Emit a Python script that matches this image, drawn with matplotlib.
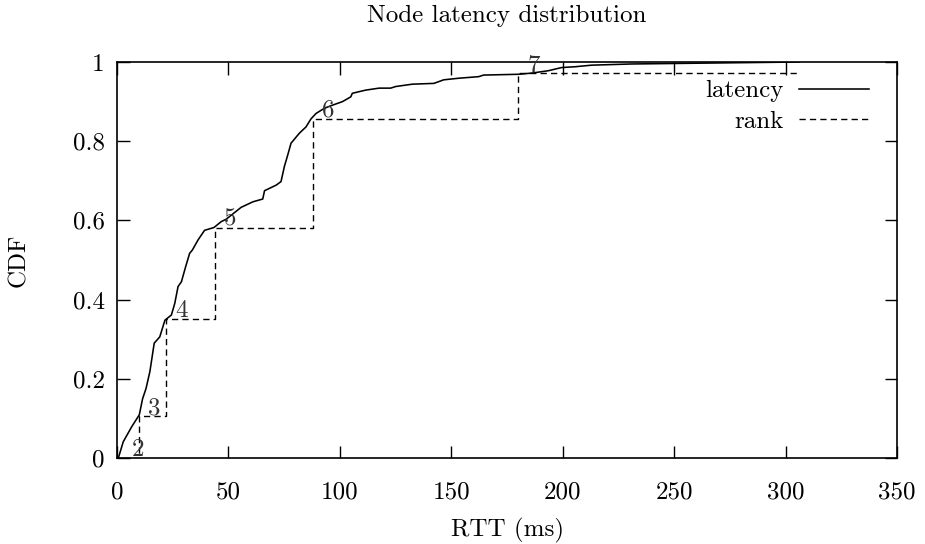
import matplotlib
matplotlib.use('Agg')
import matplotlib.pyplot as plt

# curva cdf della latenza
lat_rtt = [0.6, 2.8, 6.6, 10, 11.5, 13, 14.75, 16.7, 19.2, 21.5, 24.4, 25.9, 27.4,
           28.9, 30.8, 32.6, 33.8, 36.4, 39.3, 43.5, 46.8, 49, 55.7, 61, 65.4, 66.2,
           71.4, 73.6, 75.1, 76.6, 78.1, 81.8, 84.8, 87, 89.3, 93, 96.7, 101.2, 104.9,
           105.6, 111.6, 117.6, 122.8, 125, 132.5, 142.2, 146.6, 153.3, 162.3, 164.5,
           180.2, 186.1, 193.6, 199.5, 205.5, 213, 230.8, 260.6, 306]
lat_cdf = [0.0, 0.041, 0.079, 0.109, 0.15, 0.175, 0.218, 0.29, 0.306, 0.348, 0.361,
           0.39, 0.433, 0.445, 0.483, 0.517, 0.525, 0.551, 0.575, 0.582, 0.597, 0.603,
           0.633, 0.647, 0.654, 0.675, 0.689, 0.698, 0.736, 0.765, 0.795, 0.82, 0.836,
           0.856, 0.87, 0.883, 0.891, 0.9, 0.912, 0.921, 0.929, 0.934, 0.934, 0.938,
           0.944, 0.946, 0.955, 0.959, 0.963, 0.967, 0.969, 0.972, 0.978, 0.986, 0.988,
           0.992, 0.995, 0.997, 1.0]

# gradini del rank
rank_rtt = [2.5, 10, 22, 44, 88, 180]
rank_cdf = [0.0, 0.105, 0.35, 0.582, 0.857, 0.971]
rank_labels = ['2', '3', '4', '5', '6', '7']
rank_end = 306

xticks = [0, 50, 100, 150, 200, 250, 300, 350]
yticks = [0, 0.2, 0.4, 0.6, 0.8, 1]
ytick_labels = ['0', '0.2', '0.4', '0.6', '0.8', '1']

plt.rcParams['font.family'] = 'serif'
plt.rcParams['font.serif'] = ['cmr10', 'DejaVu Serif']
plt.rcParams['axes.formatter.use_mathtext'] = True
fs = 18

fig = plt.figure(figsize=(9.25, 5.44), dpi=100)
ax = fig.add_axes([117/925, 1-458/544, 780/925, 396/544])

ax.plot(lat_rtt, lat_cdf, color='black', lw=1.15, label='latency')
ax.step(rank_rtt + [rank_end], rank_cdf + [rank_cdf[-1]], where='post',
        color='black', lw=1.0, dashes=[4.5, 3], label='rank')

# etichette dei gradini
for x, y, t in zip(rank_rtt, rank_cdf, rank_labels):
    ax.annotate(t, (x, y), xytext=(6.5, 6), textcoords='offset points',
                ha='left', va='center', fontsize=fs, color='#333333')

ax.set_xlim(0, 350)
ax.set_ylim(0, 1)
ax.set_xticks(xticks)
ax.set_xticklabels([str(v) for v in xticks])
ax.set_yticks(yticks)
ax.set_yticklabels(ytick_labels)
ax.tick_params(direction='in', length=9, width=1, top=True, right=True, labelsize=fs)
ax.tick_params(axis='x', pad=17)
ax.tick_params(axis='y', pad=9)
for s in ax.spines.values():
    s.set_linewidth(1.2)

ax.set_xlabel('RTT (ms)', fontsize=fs)
ax.xaxis.set_label_coords(0.5, -0.152)
ax.set_ylabel('CDF', fontsize=fs)
ax.yaxis.set_label_coords(-0.112, 0.5)
ax.text(0.5, (458-16)/396, 'Node latency distribution', transform=ax.transAxes,
        ha='center', va='center', fontsize=fs)

ax.legend(loc='upper right', bbox_to_anchor=(0.964, 0.955), frameon=False,
          markerfirst=False, fontsize=fs, handlelength=2.8, handletextpad=0.6,
          labelspacing=0.32, borderpad=0, borderaxespad=0)

fig.savefig('out.png', dpi=100)
